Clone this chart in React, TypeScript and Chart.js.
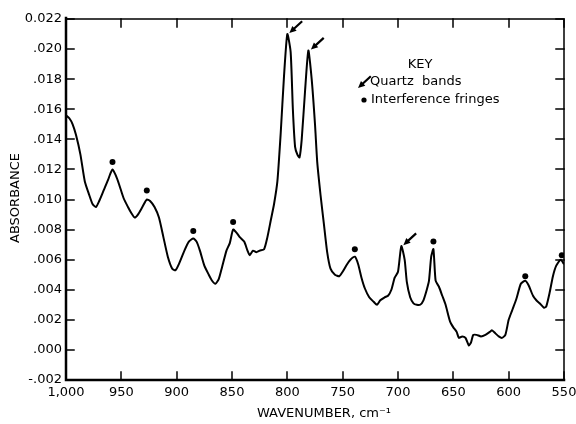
import React, { useEffect, useRef } from "react";
import { Chart, registerables } from "chart.js";

Chart.register(...registerables);

// Spectrum (wavenumber in cm-1, absorbance)
const wavenumbers = [
  1000, 997, 994, 991, 987, 983, 979, 976, 973, 970, 966, 962, 960, 958, 955, 952, 948, 944, 941, 938,
  935, 931, 927, 924, 920, 916, 912, 908, 904, 901, 898, 893, 889, 885, 882, 879, 875, 871, 868, 865,
  862, 859, 855, 852, 849, 846, 843, 839, 836, 834, 831, 828, 825, 821, 818, 815, 812, 809, 806, 803,
  800, 797, 795, 793, 791, 789, 787, 784, 781, 778, 775, 773, 770, 767, 764, 761, 757, 753, 750, 746,
  743, 739, 736, 733, 730, 726, 722, 719, 716, 712, 709, 706, 703, 700, 697, 694, 692, 689, 686, 683,
  680, 677, 674, 672, 670, 668, 666, 663, 660, 657, 653, 650, 647, 645, 642, 639, 636, 634, 632, 629,
  625, 621, 617, 615, 612, 609, 606, 603, 600, 597, 593, 589, 585, 582, 578, 575, 572, 568, 566, 563,
  560, 557, 553, 550,
];
const absorbance = [
  0.0156, 0.0154, 0.0150, 0.0143, 0.0130, 0.0112, 0.0103, 0.0097, 0.0095, 0.0099, 0.0106, 0.0113, 0.0117, 0.0120, 0.0116, 0.0110, 0.0101, 0.0095, 0.0091, 0.0088,
  0.0090, 0.0095, 0.0100, 0.0099, 0.0095, 0.0088, 0.0075, 0.0062, 0.0054, 0.0053, 0.0057, 0.0066, 0.0072, 0.0074, 0.0072, 0.0066, 0.0056, 0.0050, 0.0046, 0.0044,
  0.0047, 0.0055, 0.0066, 0.0071, 0.0080, 0.0078, 0.0075, 0.0072, 0.0066, 0.0063, 0.0066, 0.0065, 0.0066, 0.0067, 0.0075, 0.0086, 0.0097, 0.0112, 0.0144, 0.0182,
  0.0210, 0.0198, 0.0160, 0.0135, 0.0130, 0.0128, 0.0140, 0.0172, 0.0199, 0.0180, 0.0150, 0.0125, 0.0103, 0.0084, 0.0065, 0.0054, 0.0050, 0.0049, 0.0052, 0.0057,
  0.0060, 0.0062, 0.0057, 0.0048, 0.0041, 0.0035, 0.0032, 0.0030, 0.0033, 0.0035, 0.0036, 0.0040, 0.0048, 0.0052, 0.0069, 0.0060, 0.0045, 0.0035, 0.0031, 0.0030,
  0.0030, 0.0033, 0.0040, 0.0046, 0.0062, 0.0067, 0.0046, 0.0042, 0.0036, 0.0030, 0.0019, 0.0015, 0.0012, 0.0008, 0.0009, 0.0008, 0.0003, 0.0005, 0.0010, 0.0010,
  0.0009, 0.0010, 0.0012, 0.0013, 0.0011, 0.0009, 0.0008, 0.0010, 0.0020, 0.0026, 0.0034, 0.0044, 0.0046, 0.0043, 0.0036, 0.0033, 0.0031, 0.0028, 0.0029, 0.0038,
  0.0049, 0.0056, 0.0060, 0.0057,
];

// Interference fringes (dots)
const fringeWn = [958, 927, 885, 849, 739, 668, 585, 552];
const fringeAbs = [0.0125, 0.0106, 0.0079, 0.0085, 0.0067, 0.0072, 0.0049, 0.0063];

// Quartz bands (arrows)
const quartzWn = [800, 780.5, 697];
const quartzAbs = [0.0210, 0.0199, 0.0069];

// Axis ticks
const xTickValues = [1000, 950, 900, 850, 800, 750, 700, 650, 600, 550];
const xTickLabels = ["1,000", "950", "900", "850", "800", "750", "700", "650", "600", "550"];
const yTickValues = [-0.002, 0, 0.002, 0.004, 0.006, 0.008, 0.01, 0.012, 0.014, 0.016, 0.018, 0.02, 0.022];
const yTickLabels = ["-.002", ".000", ".002", ".004", ".006", ".008", ".010", ".012", ".014", ".016", ".018", ".020", "0.022"];

const xTitle = "WAVENUMBER, cm\u207B\u00B9";
const yTitle = "ABSORBANCE";
const keyTitle = "KEY";
const keyQuartz = "Quartz  bands";
const keyFringe = "Interference fringes";

const FONT = "'DejaVu Sans', 'Liberation Sans', sans-serif";

function drawArrow(ctx: CanvasRenderingContext2D, hx: number, hy: number, tx: number, ty: number) {
  const ang = Math.atan2(hy - ty, hx - tx);
  const len = 7;
  const wid = 3.2;
  const bx = hx - Math.cos(ang) * len;
  const by = hy - Math.sin(ang) * len;
  ctx.beginPath();
  ctx.moveTo(tx, ty);
  ctx.lineTo(bx, by);
  ctx.lineWidth = 2.2;
  ctx.strokeStyle = "#000";
  ctx.stroke();
  ctx.beginPath();
  ctx.moveTo(hx, hy);
  ctx.lineTo(bx + Math.sin(ang) * wid, by - Math.cos(ang) * wid);
  ctx.lineTo(bx - Math.sin(ang) * wid, by + Math.cos(ang) * wid);
  ctx.closePath();
  ctx.fillStyle = "#000";
  ctx.fill();
}

const framePlugin = {
  id: "frame",
  afterDraw(chart: any) {
    const { ctx, chartArea } = chart;
    const xs = chart.scales.x;
    const ys = chart.scales.y;
    const { left, right, top, bottom } = chartArea;
    ctx.save();
    ctx.strokeStyle = "#000";
    ctx.lineCap = "square";
    // frame
    ctx.lineWidth = 2.5;
    ctx.beginPath();
    ctx.moveTo(left, top - 1);
    ctx.lineTo(left, bottom);
    ctx.lineTo(right, bottom);
    ctx.stroke();
    ctx.lineWidth = 1.5;
    ctx.beginPath();
    ctx.moveTo(left, top);
    ctx.lineTo(right, top);
    ctx.lineTo(right, bottom);
    ctx.stroke();
    // ticks
    const tl = 8;
    ctx.lineWidth = 1.5;
    ctx.beginPath();
    yTickValues.forEach((v) => {
      const py = Math.round(ys.getPixelForValue(v));
      ctx.moveTo(left, py);
      ctx.lineTo(left + tl, py);
      ctx.moveTo(right, py);
      ctx.lineTo(right - tl, py);
    });
    xTickValues.forEach((v) => {
      const px = Math.round(xs.getPixelForValue(v));
      ctx.moveTo(px, bottom);
      ctx.lineTo(px, bottom - tl);
      ctx.moveTo(px, top);
      ctx.lineTo(px, top + tl);
    });
    ctx.stroke();

    // quartz arrows
    quartzWn.forEach((wn, i) => {
      const px = xs.getPixelForValue(wn);
      const py = ys.getPixelForValue(quartzAbs[i]);
      drawArrow(ctx, px + 2, py - 1, px + 14, py - 12);
    });

    // axis titles
    ctx.fillStyle = "#000";
    ctx.font = `13px ${FONT}`;
    ctx.textAlign = "center";
    ctx.textBaseline = "middle";
    ctx.fillText(xTitle, 324, 414);
    ctx.save();
    ctx.translate(16, 198);
    ctx.rotate(-Math.PI / 2);
    ctx.fillText(yTitle, 0, 0);
    ctx.restore();

    // key
    ctx.font = `13px ${FONT}`;
    ctx.textAlign = "center";
    ctx.fillText(keyTitle, 420, 65);
    ctx.textAlign = "left";
    ctx.fillText(keyQuartz, 370, 82);
    ctx.fillText(keyFringe, 371, 100);
    drawArrow(ctx, 358, 88, 370, 77);
    ctx.beginPath();
    ctx.arc(364, 100, 2.6, 0, Math.PI * 2);
    ctx.fill();
    ctx.restore();
  },
};

export default function App() {
  const ref = useRef<HTMLCanvasElement | null>(null);
  useEffect(() => {
    if (!ref.current) return;
    const chart = new Chart(ref.current, {
      type: "line",
      data: {
        datasets: [
          {
            label: "Spectrum",
            data: wavenumbers.map((x, i) => ({ x, y: absorbance[i] })),
            borderColor: "#000",
            borderWidth: 2,
            pointRadius: 0,
            tension: 0.2,
            fill: false,
          },
          {
            type: "scatter",
            label: "Interference fringes",
            data: fringeWn.map((x, i) => ({ x, y: fringeAbs[i] })),
            backgroundColor: "#000",
            borderColor: "#000",
            borderWidth: 0,
            pointRadius: 3,
            showLine: false,
          } as any,
        ],
      },
      options: {
        responsive: false,
        animation: false,
        layout: { padding: { top: 19, right: 12, left: 0, bottom: 0 }, autoPadding: false } as any,
        plugins: { legend: { display: false }, tooltip: { enabled: false } },
        scales: {
          x: {
            type: "linear",
            reverse: true,
            min: 550,
            max: 1000,
            grid: { display: false, drawTicks: false },
            border: { display: false },
            afterBuildTicks: (s: any) => {
              s.ticks = xTickValues.map((v) => ({ value: v }));
            },
            afterFit: (s: any) => {
              s.height = 44;
              s.paddingLeft = 0;
              s.paddingRight = 0;
            },
            ticks: {
              autoSkip: false,
              maxRotation: 0,
              padding: 5,
              color: "#000",
              font: { family: FONT, size: 13 },
              callback: (v: any) => xTickLabels[xTickValues.indexOf(Number(v))] ?? "",
            },
          },
          y: {
            type: "linear",
            min: -0.002,
            max: 0.022,
            grid: { display: false, drawTicks: false },
            border: { display: false },
            afterBuildTicks: (s: any) => {
              s.ticks = yTickValues.map((v) => ({ value: v }));
            },
            afterFit: (s: any) => {
              s.width = 66;
              s.paddingTop = 0;
              s.paddingBottom = 0;
            },
            ticks: {
              autoSkip: false,
              padding: 4,
              color: "#000",
              font: { family: FONT, size: 13 },
              callback: (v: any) => yTickLabels[yTickValues.indexOf(Number(v))] ?? "",
            },
          },
        },
      },
      plugins: [framePlugin],
    });
    return () => chart.destroy();
  }, []);
  return (
    <div style={{ position: "absolute", left: 0, top: 0, width: 576, height: 424, background: "#fff" }}>
      <canvas ref={ref} width={576} height={424} style={{ width: 576, height: 424 }} />
    </div>
  );
}
